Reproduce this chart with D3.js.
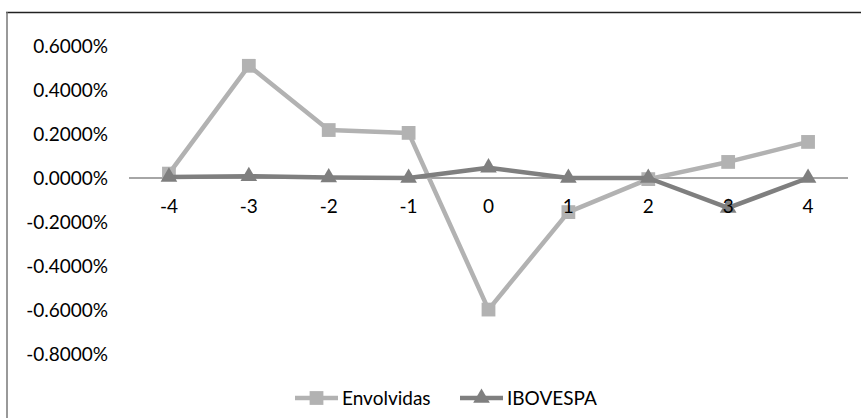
<!DOCTYPE html>
<html>
<head>
<meta charset="utf-8">
<script src="https://cdn.jsdelivr.net/npm/d3@7"></script>
<style>
  body { margin: 0; background: #fff; }
  svg { display: block; }
  text { font-family: Lato, "Open Sans", sans-serif; fill: #000; }
</style>
</head>
<body>
<div id="chart"></div>
<script>
// event window days
const days = [-4, -3, -2, -1, 0, 1, 2, 3, 4];
// average abnormal returns, in %
const envolvidas = [0.02, 0.51, 0.218, 0.205, -0.598, -0.155, -0.005, 0.073, 0.164];
const ibovespa = [0.005, 0.008, 0.002, 0.0, 0.047, 0.0, 0.0, -0.136, 0.0];
const yTicks = [-0.8, -0.6, -0.4, -0.2, 0.0, 0.2, 0.4, 0.6];

const width = 861;
const height = 418;

const svg = d3.select("#chart").append("svg")
    .attr("width", width)
    .attr("height", height);

// outer frame (right and bottom sides fall outside the picture)
svg.append("line")
    .attr("x1", 6).attr("x2", width).attr("y1", 12.5).attr("y2", 12.5)
    .attr("stroke", "#222").attr("stroke-width", 1.5);
svg.append("line")
    .attr("x1", 7).attr("x2", 7).attr("y1", 12).attr("y2", height)
    .attr("stroke", "#777").attr("stroke-width", 1.5);

const x = d3.scaleBand()
    .domain(days)
    .range([129, 848]);

const y = d3.scaleLinear()
    .domain([-0.8, 0.6])
    .range([354, 46]);

// y labels, plain hyphen for the minus sign like the original
const yAxis = d3.axisLeft(y)
    .tickValues(yTicks)
    .tickSize(0)
    .tickPadding(0)
    .tickFormat(d => (d3.format(".4f")(d) + "%").replace("\u2212", "-"));

const gy = svg.append("g")
    .attr("transform", "translate(108,0)")
    .call(yAxis);
gy.select(".domain").remove();
gy.selectAll("text")
    .style("font-size", "19px")
    .attr("dy", "0.35em");

// horizontal axis line at zero
svg.append("line")
    .attr("x1", x.range()[0]).attr("x2", x.range()[1])
    .attr("y1", y(0)).attr("y2", y(0))
    .attr("stroke", "#888").attr("stroke-width", 1.5);

const cx = d => x(d) + x.bandwidth() / 2;

function drawSeries(values, color, symbolType, size) {
    const line = d3.line()
        .x((d, i) => cx(days[i]))
        .y(d => y(d));

    svg.append("path")
        .datum(values)
        .attr("fill", "none")
        .attr("stroke", color)
        .attr("stroke-width", 4.5)
        .attr("stroke-linejoin", "round")
        .attr("d", line);

    svg.selectAll(null)
        .data(values)
        .enter().append("path")
        .attr("transform", (d, i) => `translate(${cx(days[i])},${y(d)})`)
        .attr("d", d3.symbol().type(symbolType).size(size))
        .attr("fill", color);
}

drawSeries(envolvidas, "#b2b2b2", d3.symbolSquare, 190);
drawSeries(ibovespa, "#7f7f7f", d3.symbolTriangle, 120);

// x labels drawn over the series
const xAxis = d3.axisBottom(x)
    .tickSize(0)
    .tickPadding(0);

const gx = svg.append("g")
    .attr("transform", `translate(0,${y(0)})`)
    .call(xAxis);
gx.select(".domain").remove();
gx.selectAll("text")
    .style("font-size", "19px")
    .attr("y", 28)
    .attr("dy", "0.35em");

// legend
const legendItems = [
    { name: "Envolvidas", color: "#b2b2b2", symbol: d3.symbolSquare, size: 190, x: 295 },
    { name: "IBOVESPA", color: "#7f7f7f", symbol: d3.symbolTriangle, size: 120, x: 460 }
];

const legend = svg.append("g").attr("transform", "translate(0,398)");

legendItems.forEach(item => {
    legend.append("line")
        .attr("x1", item.x).attr("x2", item.x + 43)
        .attr("y1", 0).attr("y2", 0)
        .attr("stroke", item.color)
        .attr("stroke-width", 4.5);
    legend.append("path")
        .attr("transform", `translate(${item.x + 21.5},0)`)
        .attr("d", d3.symbol().type(item.symbol).size(item.size))
        .attr("fill", item.color);
    legend.append("text")
        .attr("x", item.x + 47)
        .attr("dy", "0.35em")
        .style("font-size", "19px")
        .text(item.name);
});
</script>
</body>
</html>
